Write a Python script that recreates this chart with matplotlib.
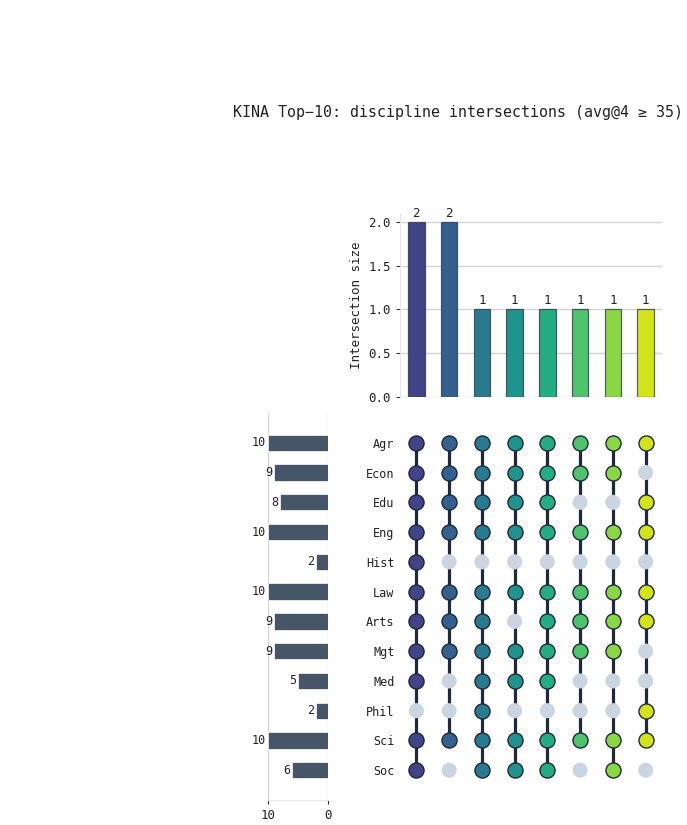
import matplotlib
matplotlib.use("Agg")
import matplotlib.pyplot as plt
import numpy as np

plt.rcParams['font.family'] = ['DejaVu Sans Mono', 'DejaVu Sans']

# ---- data ----
sets = ["Agr", "Econ", "Edu", "Eng", "Hist", "Law", "Arts", "Mgt", "Med", "Phil", "Sci", "Soc"]
set_sizes = [10, 9, 8, 10, 2, 10, 9, 9, 5, 2, 10, 6]
intersection_sizes = [2, 2, 1, 1, 1, 1, 1, 1]
# membership[col] lists 1/0 per set (in order of `sets`)
col1 = [1, 1, 1, 1, 1, 1, 1, 1, 1, 0, 1, 1]
col2 = [1, 1, 1, 1, 0, 1, 1, 1, 0, 0, 1, 0]
col3 = [1, 1, 1, 1, 0, 1, 1, 1, 1, 1, 1, 1]
col4 = [1, 1, 1, 1, 0, 1, 0, 1, 1, 0, 1, 1]
col5 = [1, 1, 1, 1, 0, 1, 1, 1, 1, 0, 1, 1]
col6 = [1, 1, 0, 1, 0, 1, 1, 1, 0, 0, 1, 0]
col7 = [1, 1, 0, 1, 0, 1, 1, 1, 0, 0, 1, 1]
col8 = [1, 0, 1, 1, 0, 1, 1, 0, 0, 1, 1, 0]
membership = [col1, col2, col3, col4, col5, col6, col7, col8]
title = "KINA Top\u221210: discipline intersections (avg@4 \u2265 35)"

# ---- style ----
W, H = 687, 825
fig = plt.figure(figsize=(W / 100, H / 100), dpi=100)
colors = plt.cm.viridis(np.linspace(0.2, 0.93, len(intersection_sizes)))
dark = '#1e293b'
inactive = '#cbd5e1'
grid_c = '#d4d4d4'

def fx(px):
    return px / W

def fy(px):
    return 1 - px / H

ncol = len(intersection_sizes)
nrow = len(sets)
xs = np.arange(ncol)
ys = np.arange(nrow)[::-1]  # first set at top

# ---- top bar chart ----
axb = fig.add_axes([fx(400), fy(397), fx(662) - fx(400), fy(213) - fy(397)])
axb.bar(xs, intersection_sizes, width=0.5, color=colors,
        edgecolor=(0.12, 0.16, 0.23, 0.7), linewidth=0.9, zorder=3)
for x, v in zip(xs, intersection_sizes):
    axb.annotate(str(v), (x, v), xytext=(0, 1.5), textcoords='offset points',
                 ha='center', va='bottom', fontsize=9, color='#222222')
axb.set_xlim(-0.5, ncol - 0.5)
axb.set_ylim(0, 2.1)
axb.set_yticks([0, 0.5, 1.0, 1.5, 2.0])
axb.set_yticklabels(["0.0", "0.5", "1.0", "1.5", "2.0"])
axb.set_xticks([])
axb.yaxis.grid(True, color=grid_c, linewidth=1.0, zorder=0)
axb.set_axisbelow(True)
for s in ['top', 'right', 'bottom']:
    axb.spines[s].set_visible(False)
axb.spines['left'].set_color('#e5e7eb')
axb.tick_params(axis='y', labelsize=9, colors='#333333', length=3, width=0.8,
                labelcolor='#222222')
axb.set_ylabel("Intersection size", fontsize=9, color='#222222')

# ---- matrix ----
axm = fig.add_axes([fx(400), fy(800), fx(662) - fx(400), fy(413) - fy(800)])
axm.set_xlim(-0.5, ncol - 0.5)
axm.set_ylim(-1, nrow)
for i, col in enumerate(membership):
    active_y = [ys[j] for j in range(nrow) if col[j]]
    if len(active_y) > 1:
        axm.plot([i, i], [min(active_y), max(active_y)], color=dark,
                 linewidth=2.3, zorder=1, solid_capstyle='butt')
    inact_y = [ys[j] for j in range(nrow) if not col[j]]
    axm.scatter([i] * len(inact_y), inact_y, s=118, color=inactive,
                edgecolor='none', zorder=2)
    axm.scatter([i] * len(active_y), active_y, s=118, color=colors[i],
                edgecolor=dark, linewidth=1.0, zorder=3)
axm.set_xticks([])
axm.set_yticks(ys)
axm.set_yticklabels(sets)
axm.tick_params(axis='y', length=0, pad=4, labelsize=8.5, labelcolor='#222222')
for s in axm.spines.values():
    s.set_visible(False)

# ---- left set size bars ----
axl = fig.add_axes([fx(268), fy(800), fx(328) - fx(268), fy(413) - fy(800)])
axl.barh(ys, set_sizes, height=0.55, color='#475569', edgecolor='white',
         linewidth=0.5, zorder=3)
for y, v in zip(ys, set_sizes):
    axl.annotate(str(v), (v, y), xytext=(-1.5, 0), textcoords='offset points',
                 ha='right', va='center', fontsize=8.5, color='#222222')
axl.set_xlim(10, 0)
axl.set_ylim(-1, nrow)
axl.set_xticks([10, 0])
axl.set_yticks([])
axl.xaxis.grid(True, color=grid_c, linewidth=1.0, zorder=0)
axl.set_axisbelow(True)
for s in ['top', 'right', 'left']:
    axl.spines[s].set_visible(False)
axl.spines['bottom'].set_color('#e5e7eb')
axl.tick_params(axis='x', labelsize=9, colors='#333333', length=3, width=0.8,
                labelcolor='#222222')

fig.text(fx(458), fy(113), title, ha='center', va='center', fontsize=10.8,
         color='#222222')

fig.savefig("out.png", dpi=100, facecolor='white')
